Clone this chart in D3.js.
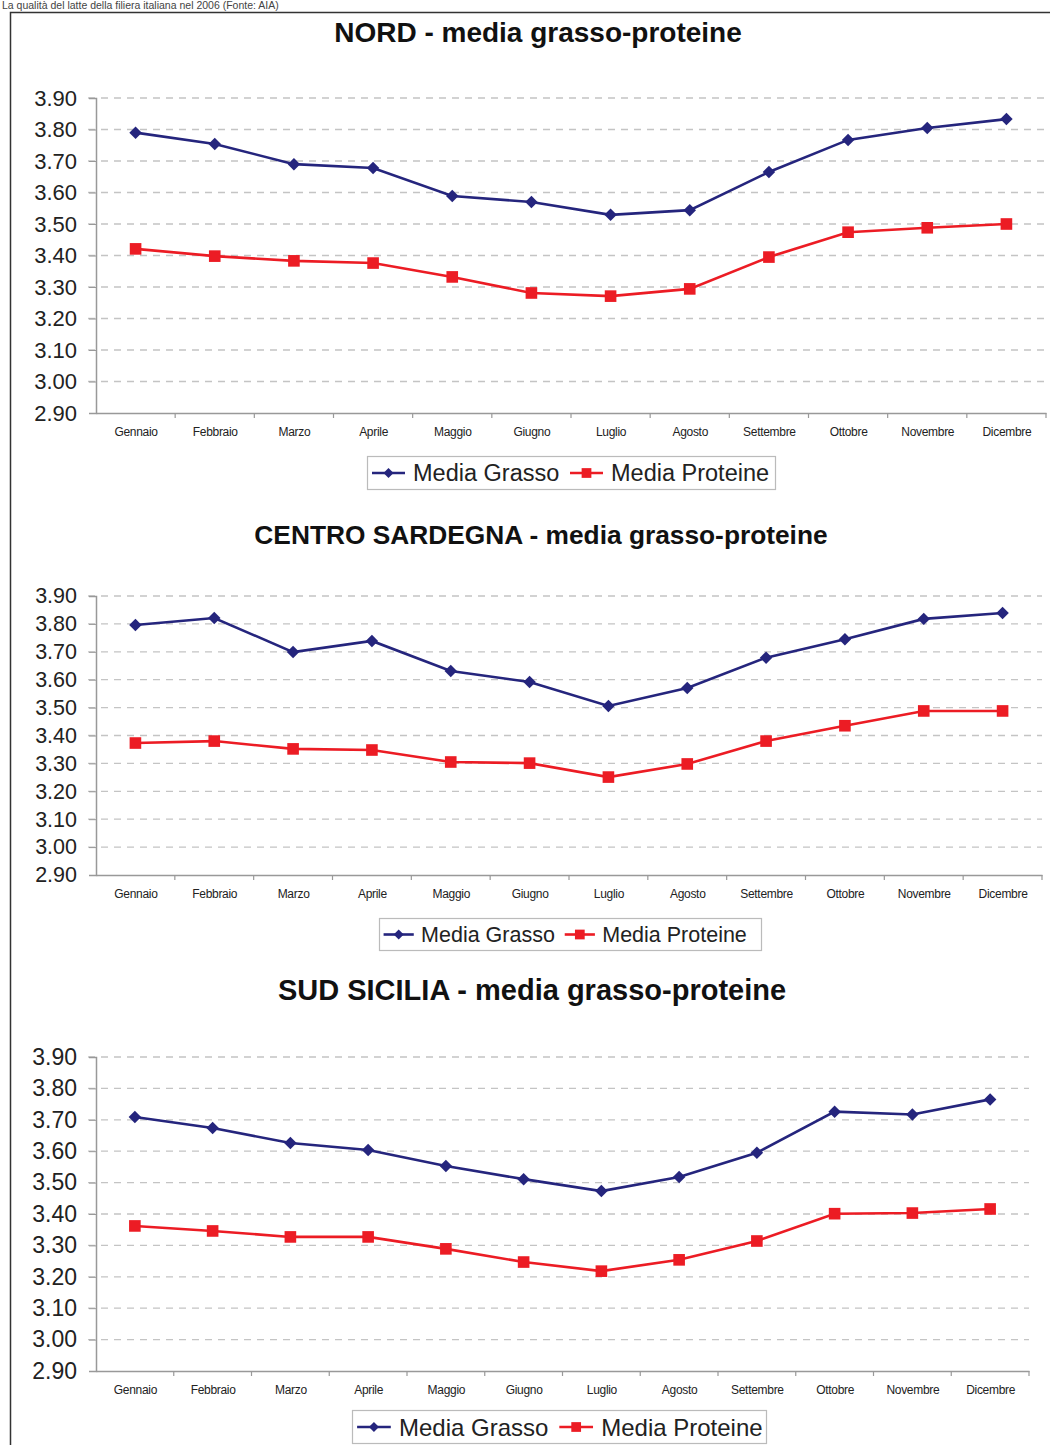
<!DOCTYPE html>
<html>
<head>
<meta charset="utf-8">
<script src="https://cdn.jsdelivr.net/npm/d3@7"></script>
<style>
  body { margin: 0; background: #fff; }
  svg { display: block; font-family: "Liberation Sans", Arial, sans-serif; }
</style>
</head>
<body>
<svg id="chart" width="1050" height="1445"></svg>
<script>
// months on the x axis
var months = ["Gennaio","Febbraio","Marzo","Aprile","Maggio","Giugno","Luglio","Agosto","Settembre","Ottobre","Novembre","Dicembre"];
var yTicks = [2.90,3.00,3.10,3.20,3.30,3.40,3.50,3.60,3.70,3.80,3.90];
var seriesNames = ["Media Grasso","Media Proteine"];

// NORD
var nordGrasso   = [3.79,3.754,3.69,3.678,3.589,3.57,3.529,3.544,3.665,3.767,3.805,3.833];
var nordProteine = [3.421,3.398,3.383,3.376,3.332,3.281,3.271,3.294,3.395,3.474,3.488,3.50];
// CENTRO SARDEGNA
var centroGrasso   = [3.796,3.821,3.699,3.739,3.631,3.592,3.506,3.57,3.679,3.745,3.818,3.839];
var centroProteine = [3.373,3.38,3.352,3.348,3.305,3.301,3.251,3.298,3.38,3.435,3.488,3.488];
// SUD SICILIA
var sudGrasso   = [3.709,3.674,3.626,3.604,3.553,3.511,3.473,3.518,3.595,3.726,3.717,3.765];
var sudProteine = [3.362,3.346,3.327,3.327,3.289,3.247,3.218,3.254,3.314,3.401,3.403,3.416];

var blue = "#25257d", red = "#ec1c24";

var svg = d3.select("#chart");

// caption above the frame + frame
svg.append("text").attr("x", 2).attr("y", 9)
  .attr("font-size", 10.5).attr("fill", "#444")
  .text("La qualità del latte della filiera italiana nel 2006 (Fonte: AIA)");
svg.append("path").attr("d", "M10.5,1445 V12.5 H1050")
  .attr("fill", "none").attr("stroke", "#333").attr("stroke-width", 1.5);

var charts = [
  {title: "NORD - media grasso-proteine", grasso: nordGrasso, proteine: nordProteine,
   titleX: 538, titleY: 42, titleSize: 28,
   left: 96, right: 1046, top: 98, bottom: 413, ySize: 22,
   leg: {x: 367, y: 456, w: 408, h: 33, size: 23.5}},
  {title: "CENTRO SARDEGNA - media grasso-proteine", grasso: centroGrasso, proteine: centroProteine,
   titleX: 541, titleY: 544, titleSize: 26.3,
   left: 96, right: 1042, top: 596, bottom: 875, ySize: 21.5,
   leg: {x: 379, y: 918, w: 382, h: 32, size: 21.5}},
  {title: "SUD SICILIA - media grasso-proteine", grasso: sudGrasso, proteine: sudProteine,
   titleX: 532, titleY: 1000, titleSize: 29,
   left: 96, right: 1029, top: 1057, bottom: 1371, ySize: 23,
   leg: {x: 352, y: 1410, w: 414, h: 33, size: 24}}
];

charts.forEach(drawChart);

function drawChart(c) {
  var g = svg.append("g");

  g.append("text")
    .attr("x", c.titleX).attr("y", c.titleY)
    .attr("text-anchor", "middle")
    .attr("font-size", c.titleSize).attr("font-weight", "bold").attr("fill", "#111")
    .text(c.title);

  var x = d3.scalePoint().domain(months).range([c.left, c.right]).padding(0.5);
  var y = d3.scaleLinear().domain([2.9, 3.9]).range([c.bottom, c.top]);
  var step = x.step();

  // dashed gridlines
  g.selectAll(".grid").data(yTicks.slice(1)).enter().append("line")
    .attr("x1", c.left - 8).attr("x2", c.right)
    .attr("y1", function(d) { return y(d); }).attr("y2", function(d) { return y(d); })
    .attr("stroke", "#c4c4c4").attr("stroke-width", 1.3)
    .attr("stroke-dasharray", "7,6");

  // y axis
  var yAxis = g.append("g")
    .attr("transform", "translate(" + c.left + ",0)")
    .call(d3.axisLeft(y).tickValues(yTicks).tickFormat(d3.format(".2f")).tickSize(7).tickPadding(12));
  yAxis.select(".domain").attr("stroke", "#999").attr("stroke-width", 1.5);
  yAxis.selectAll(".tick line").attr("stroke", "#999");
  yAxis.selectAll("text").attr("font-size", c.ySize).attr("fill", "#222")
    .attr("font-family", "'Liberation Sans', Arial, sans-serif");

  // x axis: line, boundary ticks, labels
  var xAxis = g.append("g")
    .attr("transform", "translate(0," + c.bottom + ")")
    .call(d3.axisBottom(x).tickSize(0).tickPadding(14));
  xAxis.select(".domain").attr("stroke", "#999").attr("stroke-width", 1.5);
  xAxis.selectAll("text").attr("font-size", 12).attr("fill", "#222")
    .attr("font-family", "'Liberation Sans', Arial, sans-serif")
    .attr("letter-spacing", "-0.3");
  g.selectAll(".xt").data(months).enter().append("line")
    .attr("x1", function(d) { return x(d) + step / 2; })
    .attr("x2", function(d) { return x(d) + step / 2; })
    .attr("y1", c.bottom).attr("y2", c.bottom + 5)
    .attr("stroke", "#999").attr("stroke-width", 1.2);

  var line = d3.line()
    .x(function(d, i) { return x(months[i]); })
    .y(function(d) { return y(d); });

  var diamond = d3.symbol().type(d3.symbolSquare).size(78);
  var square = d3.symbol().type(d3.symbolSquare).size(135);

  // Media Proteine
  g.append("path").datum(c.proteine)
    .attr("fill", "none").attr("stroke", red).attr("stroke-width", 2.6)
    .attr("d", line);
  g.selectAll(".pm").data(c.proteine).enter().append("path")
    .attr("d", square)
    .attr("transform", function(d, i) { return "translate(" + x(months[i]) + "," + y(d) + ")"; })
    .attr("fill", red);

  // Media Grasso
  g.append("path").datum(c.grasso)
    .attr("fill", "none").attr("stroke", blue).attr("stroke-width", 2.6)
    .attr("d", line);
  g.selectAll(".gm").data(c.grasso).enter().append("path")
    .attr("d", diamond)
    .attr("transform", function(d, i) { return "translate(" + x(months[i]) + "," + y(d) + ") rotate(45)"; })
    .attr("fill", blue);

  // legend
  var L = c.leg;
  var lg = g.append("g").attr("transform", "translate(" + L.x + "," + L.y + ")");
  lg.append("rect").attr("x", 0.5).attr("y", 0.5).attr("width", L.w).attr("height", L.h)
    .attr("fill", "#fff").attr("stroke", "#bbb").attr("stroke-width", 1.2);
  var s = L.size / 23.5;
  var items = [
    {name: seriesNames[0], color: blue, sym: d3.symbol().type(d3.symbolSquare).size(50), rot: 45, lx: 5 * s},
    {name: seriesNames[1], color: red, sym: d3.symbol().type(d3.symbolSquare).size(95), rot: 0, lx: 203 * s}
  ];
  items.forEach(function(it) {
    var cy = L.h / 2 + 0.5;
    lg.append("line").attr("x1", it.lx).attr("x2", it.lx + 33 * s)
      .attr("y1", cy).attr("y2", cy)
      .attr("stroke", it.color).attr("stroke-width", 2.6);
    lg.append("path").attr("d", it.sym)
      .attr("transform", "translate(" + (it.lx + 16.5 * s) + "," + cy + ") rotate(" + it.rot + ")")
      .attr("fill", it.color);
    lg.append("text").attr("x", it.lx + 41 * s).attr("y", cy + L.size * 0.36)
      .attr("font-size", L.size).attr("fill", "#222")
      .text(it.name);
  });
}
</script>
</body>
</html>
